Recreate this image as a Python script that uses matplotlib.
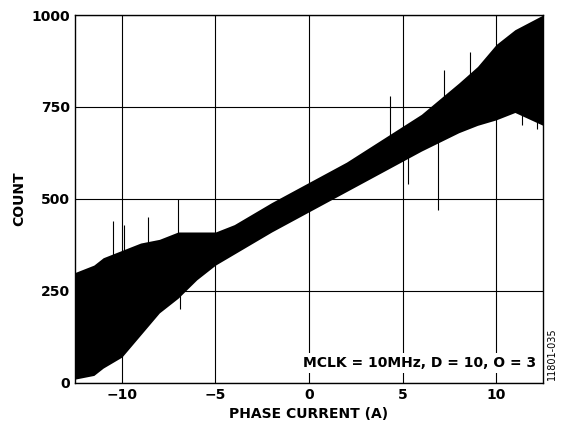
import matplotlib
matplotlib.use('Agg')
import matplotlib.pyplot as plt

# envelope of the noisy count trace
current = [-12.5, -11.5, -11, -10, -9, -8, -7, -6, -5, -4, -2, 0, 2, 4, 6, 8, 9, 10, 11, 12.5]
lower = [10, 20, 40, 70, 130, 190, 230, 280, 320, 350, 410, 465, 520, 575, 630, 680, 700, 715, 735, 700]
center = [150, 180, 190, 220, 250, 280, 310, 340, 360, 390, 445, 500, 555, 610, 670, 725, 750, 780, 810, 850]
upper = [300, 320, 340, 360, 380, 390, 410, 410, 410, 430, 490, 545, 600, 665, 730, 815, 860, 920, 960, 1000]

# isolated spikes
spike_x = [-10.5, -9.9, -8.6, -7.0, -6.9, 4.3, 5.3, 6.9, 7.2, 8.6, 11.4, 12.2]
spike_y = [440, 430, 450, 500, 200, 780, 540, 470, 850, 900, 700, 690]

fig = plt.figure(figsize=(5.65, 4.42), dpi=100)
ax = fig.add_axes([0.133, 0.134, 0.828, 0.832])

ax.fill_between(current, lower, upper, color='black', linewidth=0)
ax.plot(current, center, color='black', linewidth=1)
for sx, sy in zip(spike_x, spike_y):
    c = min(range(len(current)), key=lambda i: abs(current[i] - sx))
    ax.vlines(sx, center[c], sy, color='black', linewidth=0.8)

ax.set_xlim(-12.5, 12.5)
ax.set_ylim(0, 1000)
ax.set_xticks([-10, -5, 0, 5, 10])
ax.set_xticklabels(['\u221210', '\u22125', '0', '5', '10'])
ax.set_yticks([0, 250, 500, 750, 1000])
ax.grid(True, color='black', linewidth=0.8)
ax.tick_params(length=0, labelsize=10)
for lab in ax.get_xticklabels() + ax.get_yticklabels():
    lab.set_fontweight('bold')
for s in ax.spines.values():
    s.set_linewidth(1)

ax.set_xlabel('PHASE CURRENT (A)', fontsize=10, fontweight='bold')
ax.set_ylabel('COUNT', fontsize=10, fontweight='bold')

ax.text(0.985, 0.035, 'MCLK = 10MHz, D = 10, O = 3', transform=ax.transAxes,
        ha='right', va='bottom', fontsize=10, fontweight='bold',
        bbox=dict(facecolor='white', edgecolor='none', pad=2))
fig.text(0.985, 0.14, '11801-035', rotation=90, fontsize=7, ha='right', va='bottom')

fig.savefig('out.png', dpi=100)
